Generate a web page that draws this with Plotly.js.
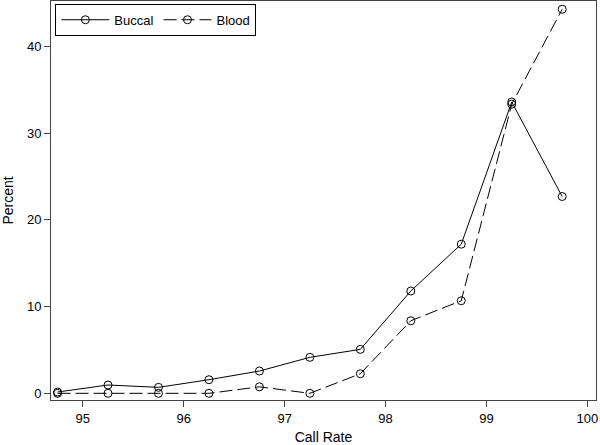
<!DOCTYPE html>
<html><head><meta charset="utf-8">
<script src="https://cdn.plot.ly/plotly-3.0.1.min.js"></script>
<style>html,body{margin:0;padding:0;background:#fff}#chart{width:600px;height:445px}</style>
</head><body><div id="chart"></div>
<script>
var callRate = [94.75, 95.25, 95.75, 96.25, 96.75, 97.25, 97.75, 98.25, 98.75, 99.25, 99.75];
var buccal = [0.15, 0.96, 0.69, 1.57, 2.57, 4.15, 5.07, 11.8, 17.2, 33.6, 22.7];
var blood  = [0.0, 0.0, 0.0, 0.0, 0.75, 0.0, 2.26, 8.37, 10.68, 33.35, 44.3];
var xTicks = [95, 96, 97, 98, 99, 100];
var yTicks = [0, 10, 20, 30, 40];

var font = {family: 'Liberation Sans, Arial, sans-serif', color: '#000'};
var traces = [
  {x: callRate, y: buccal, name: 'Buccal', type: 'scatter', mode: 'lines+markers',
   line: {color: '#000', width: 1},
   marker: {symbol: 'circle-open', size: 8, color: '#000', line: {width: 1, color: '#000'}}},
  {x: callRate, y: blood, name: 'Blood', type: 'scatter', mode: 'lines+markers',
   line: {color: '#000', width: 1, dash: '13px,5px'},
   marker: {symbol: 'circle-open', size: 8, color: '#000', line: {width: 1, color: '#000'}}}
];
var layout = {
  width: 600, height: 445,
  margin: {l: 51, r: 4, t: 1, b: 45},
  paper_bgcolor: '#fff', plot_bgcolor: '#fff',
  font: Object.assign({size: 14}, font),
  showlegend: true,
  legend: {x: 0.008, y: 0.993, xanchor: 'left', yanchor: 'top', orientation: 'h',
    bordercolor: '#000', borderwidth: 1, bgcolor: '#fff', itemwidth: 48,
    font: Object.assign({size: 13}, font), tracegroupgap: 0},
  xaxis: {range: [94.685, 100.085], tickvals: xTicks, ticktext: xTicks.map(String),
    ticks: 'outside', ticklen: 6, tickcolor: '#444', showgrid: false, zeroline: false,
    showline: true, linecolor: '#444', linewidth: 1, mirror: true,
    ticklabeloverflow: 'allow',
    tickfont: Object.assign({size: 13}, font),
    title: {text: 'Call Rate', font: Object.assign({size: 14}, font), standoff: 9}},
  yaxis: {range: [-0.77, 45.25], tickvals: yTicks, ticktext: yTicks.map(String),
    ticks: 'outside', ticklen: 6, tickcolor: '#444', showgrid: false, zeroline: false,
    showline: true, linecolor: '#444', linewidth: 1, mirror: true,
    tickfont: Object.assign({size: 13}, font),
    title: {text: 'Percent', font: Object.assign({size: 14}, font), standoff: 10}}
};
Plotly.newPlot('chart', traces, layout, {displayModeBar: false, staticPlot: true});
</script></body></html>
